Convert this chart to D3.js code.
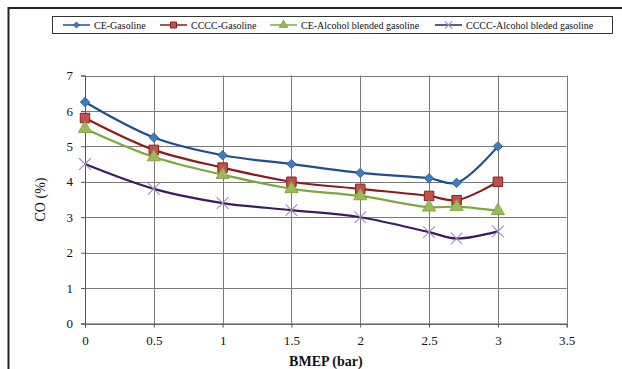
<!DOCTYPE html>
<html>
<head>
<meta charset="utf-8">
<script src="https://cdn.jsdelivr.net/npm/d3@7"></script>
<style>
  body { margin: 0; background: white; }
  text { font-family: "Liberation Serif", "Times New Roman", serif; }
</style>
</head>
<body>
<div id="container"></div>
<script>
// CO vs BMEP, four fuel/engine combos
const bmep = [0, 0.5, 1, 1.5, 2, 2.5, 2.7, 3]
const ceGasoline = [6.25, 5.25, 4.75, 4.5, 4.25, 4.1, 3.97, 5.0]
const ccccGasoline = [5.8, 4.9, 4.4, 4.0, 3.8, 3.6, 3.48, 4.0]
const ceAlcohol = [5.5, 4.7, 4.2, 3.8, 3.6, 3.28, 3.3, 3.18]
const ccccAlcohol = [4.5, 3.8, 3.4, 3.2, 3.0, 2.58, 2.4, 2.6]
const seriesNames = ["CE-Gasoline", "CCCC-Gasoline", "CE-Alcohol blended gasoline", "CCCC-Alcohol bleded gasoline"]
const xTicks = [0, 0.5, 1, 1.5, 2, 2.5, 3, 3.5]
const yTicks = [0, 1, 2, 3, 4, 5, 6, 7]

const w = 622
const h = 369

const styles = [
    { line: "#1f4f8f", fill: "#3f7cc0", stroke: "#2a5d9c", shape: "diamond" },
    { line: "#8c1c1c", fill: "#c0504d", stroke: "#8c2020", shape: "square" },
    { line: "#7fa83a", fill: "#9bbb59", stroke: "#7a9a3e", shape: "triangle" },
    { line: "#3a1d5c", fill: "none", stroke: "#9a8cc4", shape: "x" }
]
const values = [ceGasoline, ccccGasoline, ceAlcohol, ccccAlcohol]

const svg = d3.select("#container")
    .append("svg")
    .attr("width", w)
    .attr("height", h)
    .style("display", "block")

// outer frame (runs off the right/bottom edge)
svg.append("rect")
    .attr("x", 8.5)
    .attr("y", 8)
    .attr("width", 640)
    .attr("height", 400)
    .attr("fill", "white")
    .attr("stroke", "#222")
    .attr("stroke-width", 2)

const xScale = d3.scaleLinear().domain([0, 3.5]).range([85, 566.7])
const yScale = d3.scaleLinear().domain([0, 7]).range([323.5, 75.5])

// gridlines
svg.append("g")
    .selectAll("line")
    .data(yTicks)
    .join("line")
    .attr("x1", xScale(0))
    .attr("x2", xScale(3.5))
    .attr("y1", (d) => Math.round(yScale(d)) + 0.5)
    .attr("y2", (d) => Math.round(yScale(d)) + 0.5)
    .attr("stroke", "#7a7a7a")
    .attr("stroke-width", 1)
svg.append("g")
    .selectAll("line")
    .data(xTicks)
    .join("line")
    .attr("x1", (d) => Math.round(xScale(d)) + 0.5)
    .attr("x2", (d) => Math.round(xScale(d)) + 0.5)
    .attr("y1", yScale(7))
    .attr("y2", yScale(0))
    .attr("stroke", "#7a7a7a")
    .attr("stroke-width", 1)

const xAxis = d3.axisBottom(xScale)
    .tickValues(xTicks)
    .tickFormat(d3.format("~g"))
    .tickSize(4)
    .tickPadding(8)
const yAxis = d3.axisLeft(yScale)
    .tickValues(yTicks)
    .tickFormat(d3.format("d"))
    .tickSize(4)
    .tickPadding(8)

const gx = svg.append("g")
    .attr("transform", `translate(0, ${yScale(0)})`)
    .call(xAxis)
const gy = svg.append("g")
    .attr("transform", `translate(${xScale(0)}, 0)`)
    .call(yAxis)
for (const g of [gx, gy]) {
    g.select(".domain").attr("stroke", "#555")
    g.selectAll(".tick line").attr("stroke", "#555")
    g.selectAll("text")
        .style("font-family", "Liberation Serif, serif")
        .style("font-size", "13px")
        .attr("fill", "#111")
}

svg.append("text")
    .text("CO (%)")
    .attr("text-anchor", "middle")
    .attr("transform", `translate(45, ${yScale(3.5)}) rotate(-90)`)
    .style("font-size", "14px")
    .attr("fill", "#111")
svg.append("text")
    .text("BMEP (bar)")
    .attr("text-anchor", "middle")
    .attr("x", xScale(1.75))
    .attr("y", 366)
    .style("font-size", "14px")
    .style("font-weight", "bold")
    .attr("fill", "#111")

function drawMarker(g, shape, st, size) {
    if (shape === "diamond") {
        g.append("path").attr("d", d3.symbol(d3.symbolSquare, size * 4.5)())
            .attr("transform", "rotate(45)")
            .attr("fill", st.fill).attr("stroke", st.stroke).attr("stroke-width", 0.8)
    } else if (shape === "square") {
        g.append("path").attr("d", d3.symbol(d3.symbolSquare, size * 9)())
            .attr("fill", st.fill).attr("stroke", st.stroke).attr("stroke-width", 1)
    } else if (shape === "triangle") {
        g.append("path").attr("d", d3.symbol(d3.symbolTriangle, size * 7.5)())
            .attr("fill", st.fill).attr("stroke", st.stroke).attr("stroke-width", 0.8)
    } else {
        g.append("path").attr("d", d3.symbol(d3.symbolX, size * 9)())
            .attr("fill", "none").attr("stroke", st.stroke).attr("stroke-width", 1.1)
    }
}

const line = d3.line()
    .x((d, i) => xScale(bmep[i]))
    .y((d) => yScale(d))
    .curve(d3.curveCatmullRom.alpha(0.5))

values.forEach((vals, k) => {
    const st = styles[k]
    svg.append("path")
        .datum(vals)
        .attr("d", line)
        .attr("fill", "none")
        .attr("stroke", st.line)
        .attr("stroke-width", 2.2)
    vals.forEach((v, i) => {
        const g = svg.append("g")
            .attr("transform", `translate(${xScale(bmep[i])}, ${yScale(v)})`)
        drawMarker(g, st.shape, st, 10)
    })
})

// legend
const legend = svg.append("g")
svg.append("rect")
    .attr("x", 52.5)
    .attr("y", 16.5)
    .attr("width", 560)
    .attr("height", 17)
    .attr("fill", "none")
    .attr("stroke", "#333")
    .attr("stroke-width", 1)
const legendX = [63, 160, 270, 435]
seriesNames.forEach((name, k) => {
    const st = styles[k]
    const g = legend.append("g").attr("transform", `translate(${legendX[k]}, 25)`)
    g.append("line")
        .attr("x1", 0).attr("x2", 27)
        .attr("stroke", st.line).attr("stroke-width", 1.5)
    const m = g.append("g").attr("transform", "translate(13.5, 0)")
    drawMarker(m, st.shape, st, 4)
    g.append("text")
        .attr("x", 31)
        .attr("y", 3.5)
        .text(name)
        .style("font-size", "10px")
        .attr("fill", "#111")
})
</script>
</body>
</html>
